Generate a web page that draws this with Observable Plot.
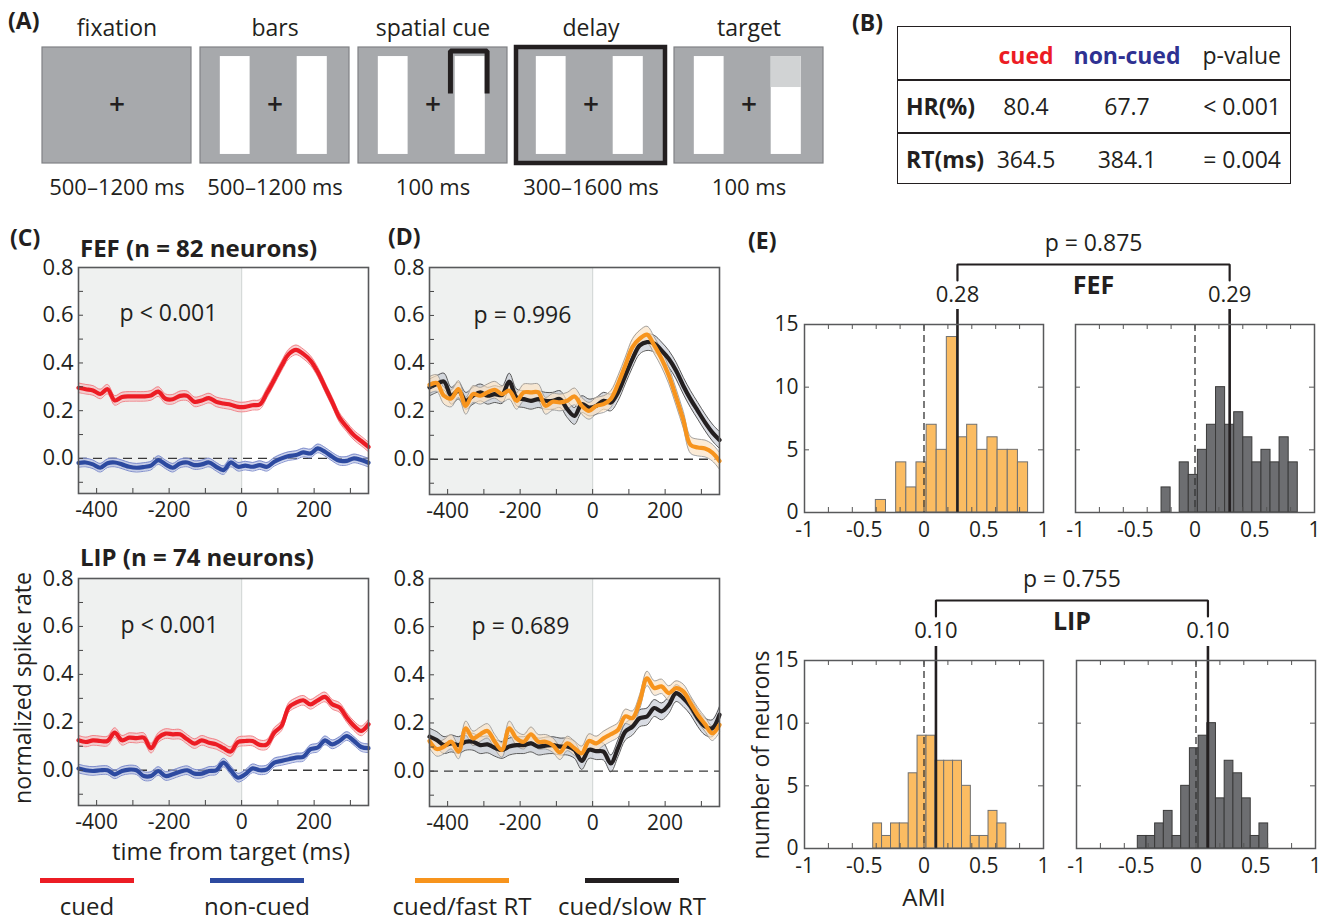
<!DOCTYPE html>
<html>
<head>
<meta charset="utf-8">
<script src="https://cdn.jsdelivr.net/npm/d3@7"></script>
<script src="https://cdn.jsdelivr.net/npm/@observablehq/plot@0.6"></script>
<style>
  body { margin: 0; background: #fff; }
  #root { position: relative; width: 1332px; height: 923px; overflow: hidden; background: #fff;
          font-family: "Open Sans", sans-serif; color: #231f20; }
  .box { position: absolute; }
  .t { position: absolute; white-space: nowrap; line-height: 1; }
  .sw { position: absolute; height: 5px; }
</style>
</head>
<body>
<div id="root"></div>
<script>
// ---------------- DATA ----------------
// Panel A: task sequence
const frameNames = ["fixation", "bars", "spatial cue", "delay", "target"];
const frameDurations = ["500–1200 ms", "500–1200 ms", "100 ms", "300–1600 ms", "100 ms"];
const highlightedFrame = "delay";
const barFrames = ["bars", "spatial cue", "delay", "target"];
const barLeftX = [0.133, 0.333], barRightX = [0.649, 0.851], barY = [0.078, 0.922];
const targetFrame = "target", targetPatchY = [0.655, 0.922];
const cueFrame = "spatial cue", cueX = [0.617, 0.863], cueY = [0.603, 0.97];

// Panel B: behaviour table
const bColumns = ["cued", "non-cued", "p-value"];
const bRows = ["HR(%)", "RT(ms)"];
const bCued = ["80.4", "364.5"];
const bNonCued = ["67.7", "384.1"];
const bPValues = ["< 0.001", "= 0.004"];

// Panels C/D: normalized spike rate vs time from target (ms)
const times = [-450,-430,-410,-390,-370,-350,-330,-310,-290,-270,-250,-230,-210,-190,-170,-150,-130,-110,-90,-70,-50,-30,-10,10,30,50,70,90,110,130,150,170,190,210,230,250,270,290,310,330,350];
const fefCued = [0.296,0.29,0.285,0.27,0.29,0.243,0.257,0.26,0.26,0.26,0.264,0.28,0.25,0.248,0.262,0.262,0.237,0.243,0.253,0.237,0.23,0.225,0.216,0.216,0.223,0.226,0.275,0.33,0.387,0.437,0.455,0.438,0.41,0.362,0.299,0.236,0.171,0.132,0.097,0.073,0.048];
const fefNonCued = [-0.019,-0.017,-0.025,-0.039,-0.02,-0.017,-0.025,-0.035,-0.039,-0.036,-0.03,-0.007,-0.025,-0.039,-0.021,-0.017,-0.028,-0.025,-0.017,-0.035,-0.049,-0.017,-0.035,-0.03,-0.035,-0.028,-0.035,-0.014,0.0,0.01,0.014,0.025,0.021,0.042,0.028,0.007,-0.01,-0.01,0.0,-0.007,-0.018];
const lipCued = [0.125,0.118,0.125,0.122,0.122,0.157,0.125,0.136,0.134,0.136,0.092,0.136,0.153,0.15,0.15,0.129,0.111,0.125,0.115,0.108,0.092,0.078,0.118,0.122,0.122,0.106,0.108,0.157,0.185,0.262,0.282,0.292,0.275,0.292,0.306,0.275,0.262,0.22,0.185,0.164,0.192];
const lipNonCued = [0.007,0.0,-0.003,0.0,0.0,-0.017,-0.003,0.003,0.0,-0.024,-0.024,-0.003,-0.024,-0.017,-0.006,0.0,-0.014,-0.014,-0.003,0.0,0.032,0.0,-0.031,-0.017,0.008,0.0,0.004,0.032,0.039,0.046,0.053,0.056,0.088,0.095,0.125,0.108,0.122,0.143,0.122,0.097,0.092];
const fefFast = [0.31,0.318,0.265,0.254,0.293,0.223,0.272,0.265,0.279,0.29,0.272,0.286,0.244,0.279,0.279,0.279,0.223,0.24,0.237,0.244,0.262,0.223,0.202,0.223,0.23,0.251,0.314,0.391,0.468,0.503,0.52,0.475,0.42,0.35,0.26,0.165,0.06,0.049,0.045,0.028,-0.007];
const fefSlow = [0.30,0.314,0.324,0.265,0.286,0.244,0.265,0.279,0.265,0.272,0.268,0.324,0.258,0.251,0.244,0.251,0.244,0.244,0.251,0.209,0.181,0.23,0.216,0.223,0.244,0.237,0.279,0.349,0.419,0.475,0.489,0.482,0.454,0.419,0.37,0.307,0.251,0.202,0.154,0.112,0.08];
const lipFast = [0.125,0.092,0.102,0.122,0.081,0.178,0.136,0.153,0.167,0.122,0.088,0.178,0.136,0.122,0.153,0.122,0.122,0.108,0.078,0.115,0.095,0.074,0.125,0.115,0.136,0.153,0.171,0.227,0.22,0.289,0.385,0.345,0.352,0.324,0.345,0.331,0.282,0.234,0.195,0.157,0.192];
const lipSlow = [0.143,0.129,0.108,0.115,0.108,0.122,0.122,0.108,0.111,0.097,0.088,0.102,0.108,0.108,0.115,0.102,0.106,0.108,0.102,0.102,0.088,0.042,0.088,0.083,0.081,0.032,0.095,0.164,0.185,0.22,0.227,0.262,0.248,0.275,0.324,0.303,0.269,0.22,0.185,0.178,0.234];
const sem = {fefCued: 0.02, fefNonCued: 0.018, lipCued: 0.02, lipNonCued: 0.018, fefFast: 0.035, fefSlow: 0.035, lipFast: 0.03, lipSlow: 0.035};
const baselineWindow = {start: -450, end: 0};
const tsXDomain = [-450, 350], tsYDomain = [-0.147, 0.8];
const tsXTickLabels = [-400, -200, 0, 200];
const tsYTickLabels = [0, 0.2, 0.4, 0.6, 0.8];
const tsXMinorTicks = [-400, -300, -200, -100, 0, 100, 200, 300];
const tsYMinorTicks = [-0.1, 0, 0.1, 0.2, 0.3, 0.4, 0.5, 0.6, 0.7, 0.8];
const pTexts = {fefCvN: "p < 0.001", lipCvN: "p < 0.001", fefRT: "p = 0.996", lipRT: "p = 0.689"};

// Panel E: AMI histograms
const fefCuedEdges = [-0.403,-0.318,-0.233,-0.148,-0.063,0.022,0.106,0.191,0.276,0.361,0.446,0.531,0.616,0.701,0.786,0.871];
const fefCuedCounts = [1,0,4,2,4,7,5,14,6,7,5,6,5,5,4];
const fefNonEdges = [-0.28,-0.204,-0.128,-0.052,0.024,0.1,0.176,0.252,0.328,0.404,0.48,0.556,0.632,0.708,0.784,0.86];
const fefNonCounts = [2,0,4,3,5,7,10,7,8,6,4,5,4,6,4];
const lipCuedEdges = [-0.425,-0.351,-0.276,-0.202,-0.128,-0.054,0.021,0.095,0.169,0.243,0.318,0.392,0.466,0.54,0.615,0.689];
const lipCuedCounts = [2,1,2,2,6,9,9,7,7,7,5,1,1,3,2];
const lipNonEdges = [-0.487,-0.414,-0.342,-0.269,-0.196,-0.124,-0.051,0.022,0.095,0.167,0.24,0.313,0.386,0.458,0.531,0.604];
const lipNonCounts = [1,1,2,3,1,5,8,9,10,4,7,6,4,1,2];
const fefMeans = [0.28, 0.29], lipMeans = [0.10, 0.10];
const ePValues = {FEF: "p = 0.875", LIP: "p = 0.755"};
const eXTickLabels = [-1, -0.5, 0, 0.5, 1];
const eYTickLabels = [0, 5, 10, 15];
const eXMinorTicks = [-0.8, -0.6, -0.4, -0.2, 0, 0.2, 0.4, 0.6, 0.8];
const eYMinorTicks = [5, 10];

// Legends
const legendLabels = ["cued", "non-cued", "cued/fast RT", "cued/slow RT"];

// ---------------- STYLE ----------------
const C = {red: "#ec1c24", blue: "#2d4aa0", orange: "#f7941d", black: "#231f20",
           ink: "#231f20", frame: "#58595b", shade: "#eff1f0", histOrange: "#fbbc62", histGray: "#6d6e71"};
const FONT = '"Open Sans", sans-serif';
const root = document.getElementById("root");
const baseStyle = fs => ({fontFamily: FONT, fontSize: fs + "px", color: C.ink, background: "transparent", overflow: "visible", maxWidth: "none"});

function place(node, left, top) {
  const d = document.createElement("div");
  d.className = "box";
  d.style.left = left + "px"; d.style.top = top + "px";
  d.appendChild(node); root.appendChild(d); return d;
}
function label(text, x, y, o = {}) {
  const d = document.createElement("div");
  d.className = "t"; d.textContent = text;
  d.style.left = x + "px"; d.style.top = y + "px";
  d.style.fontSize = (o.size || 22) + "px";
  if (o.bold) d.style.fontWeight = 700;
  if (o.color) d.style.color = o.color;
  const ax = o.align === "left" ? "0" : o.align === "right" ? "-100%" : "-50%";
  d.style.transform = `translate(${ax},-50%)` + (o.rotate ? ` rotate(${o.rotate}deg)` : "");
  root.appendChild(d); return d;
}

// ---------------- PANEL A ----------------
const framesData = frameNames.map((name, i) => ({name, duration: frameDurations[i]}));
const barsData = barFrames.flatMap(f => [{frame: f, x1: barLeftX[0], x2: barLeftX[1]}, {frame: f, x1: barRightX[0], x2: barRightX[1]}]);
const cuePath = [[cueX[0], cueY[0]], [cueX[0], cueY[1]], [cueX[1], cueY[1]], [cueX[1], cueY[0]]].map(([x, y]) => ({frame: cueFrame, x, y}));
const plotA = Plot.plot({
  width: 840, height: 205, marginLeft: 40, marginRight: 14, marginTop: 47, marginBottom: 42,
  fx: {domain: frameNames, paddingInner: 0.0566, paddingOuter: 0, axis: null, label: null},
  x: {domain: [0, 1], axis: null}, y: {domain: [0, 1], axis: null},
  style: baseStyle(22),
  marks: [
    Plot.rect(framesData, {fx: "name", x1: 0, x2: 1, y1: 0, y2: 1, fill: "#a7a9ac", stroke: "#808285", strokeWidth: 1.2}),
    Plot.rect(barsData, {fx: "frame", x1: "x1", x2: "x2", y1: barY[0], y2: barY[1], fill: "white"}),
    Plot.rect([{frame: targetFrame}], {fx: "frame", x1: barRightX[0], x2: barRightX[1], y1: targetPatchY[0], y2: targetPatchY[1], fill: "#d1d3d4"}),
    Plot.line(cuePath, {fx: "frame", x: "x", y: "y", stroke: C.ink, strokeWidth: 5, strokeLinejoin: "miter", strokeLinecap: "butt"}),
    Plot.rect(framesData.filter(d => d.name === highlightedFrame), {fx: "name", x1: 0, x2: 1, y1: 0, y2: 1, fill: "none", stroke: C.ink, strokeWidth: 4.5}),
    Plot.text(framesData, {fx: "name", text: () => "+", frameAnchor: "middle", fontSize: 28, fontWeight: 600, fill: C.ink}),
    Plot.text(framesData, {fx: "name", text: "name", frameAnchor: "top", lineAnchor: "middle", dy: -19, fontSize: 23, fill: C.ink}),
    Plot.text(framesData, {fx: "name", text: "duration", frameAnchor: "bottom", lineAnchor: "middle", dy: 24, fontSize: 22, fill: C.ink})
  ]
});
place(plotA, 0, 0);

// ---------------- PANEL B ----------------
(function tableB() {
  const t = document.createElement("div");
  t.style.cssText = "position:absolute;left:897px;top:26px;width:394px;height:158px;border:1.6px solid #231f20;box-sizing:border-box;";
  root.appendChild(t);
  [79, 132].forEach(y => {
    const l = document.createElement("div");
    l.style.cssText = `position:absolute;left:897px;top:${y}px;width:394px;height:1.6px;background:#231f20;`;
    root.appendChild(l);
  });
  const colX = [1026, 1127, 1281];
  const colColor = [C.red, "#2e3192", C.ink];
  bColumns.forEach((c, i) => label(c, colX[i], 55, {size: 23, bold: i < 2, color: colColor[i], align: i === 2 ? "right" : "center"}));
  const rowY = [106, 159];
  bRows.forEach((r, j) => {
    label(r, 906, rowY[j], {size: 23, bold: true, align: "left"});
    label(bCued[j], colX[0], rowY[j], {size: 23});
    label(bNonCued[j], colX[1], rowY[j], {size: 23});
    label(bPValues[j], colX[2], rowY[j], {size: 23, align: "right"});
  });
})();

// ---------------- PANELS C / D ----------------
const curve = "catmull-rom";
function tsPanel(cfg) {
  const {x0, y0, x1, y1} = cfg.frame;
  const mL = 62, mR = 8, mT = 8, mB = 45;
  const fw = x1 - x0, fh = y1 - y0;
  const marks = [
    Plot.rect([baselineWindow], {x1: "start", x2: "end", fill: C.shade}),
    Plot.ruleX([baselineWindow.end], {stroke: "#d6dad9", strokeWidth: 1.2}),
    Plot.ruleY([0], {stroke: "#3a3a3a", strokeWidth: 1.3, strokeDasharray: "9,6"})
  ];
  const rowsets = cfg.series.map(s => times.map((t, i) => ({t, v: s.values[i], lo: s.values[i] - s.sem, hi: s.values[i] + s.sem})));
  cfg.series.forEach((s, k) => {
    marks.push(Plot.areaY(rowsets[k], {x: "t", y1: "lo", y2: "hi", fill: s.band, fillOpacity: s.bandOpacity, curve}));
    marks.push(Plot.line(rowsets[k], {x: "t", y: "lo", stroke: s.edge, strokeWidth: 0.9, curve}));
    marks.push(Plot.line(rowsets[k], {x: "t", y: "hi", stroke: s.edge, strokeWidth: 0.9, curve}));
  });
  cfg.series.forEach((s, k) => marks.push(Plot.line(rowsets[k], {x: "t", y: "v", stroke: s.color, strokeWidth: 4.2, curve, strokeLinejoin: "round"})));
  marks.push(
    Plot.tickY(tsYMinorTicks, {insetRight: fw - 5, stroke: "#444", strokeWidth: 1}),
    Plot.tickX(tsXMinorTicks, {insetTop: fh - 5, stroke: "#444", strokeWidth: 1}),
    Plot.frame({stroke: C.frame, strokeWidth: 1.6}),
    Plot.axisY(tsYTickLabels, {tickSize: 0, tickPadding: 5, tickFormat: d => d.toFixed(1), fontSize: 22, label: null}),
    Plot.axisX(tsXTickLabels, {tickSize: 0, tickPadding: 9, tickFormat: d => String(d), fontSize: 21, label: null}),
    Plot.text([cfg.pText], {text: d => d, frameAnchor: "top", lineAnchor: "middle", dx: cfg.pDx, dy: cfg.pDy, fontSize: 23, fill: C.ink})
  );
  const plot = Plot.plot({
    width: fw + mL + mR, height: fh + mT + mB, marginLeft: mL, marginRight: mR, marginTop: mT, marginBottom: mB,
    x: {domain: tsXDomain, label: null}, y: {domain: tsYDomain, label: null},
    style: baseStyle(21), marks
  });
  place(plot, x0 - mL, y0 - mT);
}
const cuedStyle = v => ({values: v, color: C.red, band: "#f5b5b7", bandOpacity: 0.6, edge: "#f07b80"});
const nonCuedStyle = v => ({values: v, color: C.blue, band: "#aab6e0", bandOpacity: 0.6, edge: "#7584c8"});
const fastStyle = v => ({values: v, color: C.orange, band: "#fbe3c4", bandOpacity: 0.7, edge: "#9a9a9a"});
const slowStyle = v => ({values: v, color: C.black, band: "#b9bfcc", bandOpacity: 0.55, edge: "#4a4a4a"});

tsPanel({frame: {x0: 78, y0: 267, x1: 368, y1: 493}, pText: pTexts.fefCvN, pDx: -55, pDy: 46,
  series: [{...cuedStyle(fefCued), sem: sem.fefCued}, {...nonCuedStyle(fefNonCued), sem: sem.fefNonCued}]});
tsPanel({frame: {x0: 78, y0: 578, x1: 368, y1: 805}, pText: pTexts.lipCvN, pDx: -54, pDy: 47,
  series: [{...cuedStyle(lipCued), sem: sem.lipCued}, {...nonCuedStyle(lipNonCued), sem: sem.lipNonCued}]});
tsPanel({frame: {x0: 429, y0: 267, x1: 719, y1: 494}, pText: pTexts.fefRT, pDx: -52, pDy: 48,
  series: [{...slowStyle(fefSlow), sem: sem.fefSlow}, {...fastStyle(fefFast), sem: sem.fefFast}]});
tsPanel({frame: {x0: 429, y0: 578, x1: 719, y1: 806}, pText: pTexts.lipRT, pDx: -54, pDy: 48,
  series: [{...slowStyle(lipSlow), sem: sem.lipSlow}, {...fastStyle(lipFast), sem: sem.lipFast}]});

// ---------------- PANEL E ----------------
function histPanel(cfg) {
  const {x0, y0, x1, y1} = cfg.frame;
  const mL = 50, mR = 8, mT = 40, mB = 45;
  const fw = x1 - x0, fh = y1 - y0;
  const bins = cfg.counts.map((n, i) => ({x1: cfg.edges[i], x2: cfg.edges[i + 1], n})).filter(d => d.n > 0);
  const yScale = {domain: [0, 15], label: null};
  if (!cfg.yLabels) yScale.axis = null;
  const plot = Plot.plot({
    width: fw + mL + mR, height: fh + mT + mB, marginLeft: mL, marginRight: mR, marginTop: mT, marginBottom: mB,
    x: {domain: [-1, 1], label: null}, y: yScale,
    style: baseStyle(21),
    marks: [
      Plot.rect(bins, {x1: "x1", x2: "x2", y1: 0, y2: "n", fill: cfg.fill, stroke: cfg.stroke, strokeWidth: 1}),
      Plot.ruleX([0], {stroke: "#333", strokeWidth: 1.3, strokeDasharray: "7,4"}),
      Plot.ruleX([cfg.mean], {stroke: C.ink, strokeWidth: 2.6, insetTop: cfg.meanTop}),
      Plot.text([cfg.mean], {x: d => d, text: d => d.toFixed(2), frameAnchor: "top", lineAnchor: "middle", dy: -30, fontSize: 22, fill: C.ink}),
      Plot.tickX(eXMinorTicks, {insetTop: fh - 5, stroke: "#555"}),
      Plot.tickX(eXMinorTicks, {insetBottom: fh - 5, stroke: "#555"}),
      Plot.tickY(eYMinorTicks, {insetRight: fw - 5, stroke: "#555"}),
      Plot.tickY(eYMinorTicks, {insetLeft: fw - 5, stroke: "#555"}),
      Plot.frame({stroke: C.frame, strokeWidth: 1.5}),
      Plot.axisX(eXTickLabels, {tickSize: 0, tickPadding: 10, tickFormat: d => String(d), fontSize: 21, label: null}),
      cfg.yLabels ? Plot.axisY(eYTickLabels, {tickSize: 0, tickPadding: 6, fontSize: 21, label: null}) : null
    ]
  });
  const left = x0 - mL;
  place(plot, left, y0 - mT);
  return {px: v => left + plot.scale("x").apply(v), top: y0};
}
const hFefC = histPanel({frame: {x0: 804, y0: 324, x1: 1043, y1: 512}, edges: fefCuedEdges, counts: fefCuedCounts, mean: fefMeans[0], meanTop: -15, fill: C.histOrange, stroke: "#707070", yLabels: true});
const hFefN = histPanel({frame: {x0: 1075, y0: 324, x1: 1314, y1: 512}, edges: fefNonEdges, counts: fefNonCounts, mean: fefMeans[1], meanTop: -15, fill: C.histGray, stroke: "#3a3a3a", yLabels: false});
const hLipC = histPanel({frame: {x0: 804, y0: 660, x1: 1043, y1: 848}, edges: lipCuedEdges, counts: lipCuedCounts, mean: lipMeans[0], meanTop: -14, fill: C.histOrange, stroke: "#707070", yLabels: true});
const hLipN = histPanel({frame: {x0: 1076, y0: 660, x1: 1315, y1: 848}, edges: lipNonEdges, counts: lipNonCounts, mean: lipMeans[1], meanTop: -14, fill: C.histGray, stroke: "#3a3a3a", yLabels: false});

// comparison brackets, positioned from the histogram scales
const brackets = [
  {area: "FEF", xa: hFefC.px(fefMeans[0]), xb: hFefN.px(fefMeans[1]), top: hFefC.top},
  {area: "LIP", xa: hLipC.px(lipMeans[0]), xb: hLipN.px(lipMeans[1]), top: hLipC.top}
];
const bracketPts = brackets.flatMap(b => [
  {g: b.area, x: b.xa, y: b.top - 44}, {g: b.area, x: b.xa, y: b.top - 60},
  {g: b.area, x: b.xb, y: b.top - 60}, {g: b.area, x: b.xb, y: b.top - 44}]);
const overlay = Plot.plot({
  width: 1332, height: 923, margin: 0,
  x: {type: "identity", axis: null}, y: {type: "identity", axis: null},
  style: {...baseStyle(23), pointerEvents: "none"},
  marks: [
    Plot.line(bracketPts, {x: "x", y: "y", z: "g", stroke: C.ink, strokeWidth: 2.2, strokeLinejoin: "miter"}),
    Plot.text(brackets, {x: b => (b.xa + b.xb) / 2, y: b => b.top - 81, text: b => ePValues[b.area], fontSize: 23, fill: C.ink}),
    Plot.text(brackets, {x: b => (b.xa + b.xb) / 2, y: b => b.top - 39, text: "area", fontSize: 25, fontWeight: 700, fill: C.ink})
  ]
});
place(overlay, 0, 0);

// ---------------- TEXT LABELS ----------------
label("(A)", 8, 20, {size: 23, bold: true, align: "left"});
label("(B)", 852, 22, {size: 23, bold: true, align: "left"});
label("(C)", 10, 237, {size: 23, bold: true, align: "left"});
label("(D)", 388, 236, {size: 23, bold: true, align: "left"});
label("(E)", 748, 240, {size: 23, bold: true, align: "left"});
label("FEF (n = 82 neurons)", 80, 248, {size: 24, bold: true, align: "left"});
label("LIP (n = 74 neurons)", 80, 557, {size: 24, bold: true, align: "left"});
label("normalized spike rate", 22, 688, {size: 23, rotate: -90});
label("time from target (ms)", 231, 851, {size: 24});
label("number of neurons", 760, 755, {size: 23, rotate: -90});
label("AMI", 924, 897, {size: 24});

// ---------------- LEGENDS ----------------
const legendColors = [C.red, C.blue, C.orange, C.black];
const legendSwatchX = [40, 210, 415, 585];
legendLabels.forEach((lab, i) => {
  const s = document.createElement("div");
  s.className = "sw";
  s.style.left = legendSwatchX[i] + "px"; s.style.top = "878px"; s.style.width = "94px";
  s.style.background = legendColors[i];
  root.appendChild(s);
  label(lab, legendSwatchX[i] + 47, 906, {size: 24});
});
</script>
</body>
</html>
